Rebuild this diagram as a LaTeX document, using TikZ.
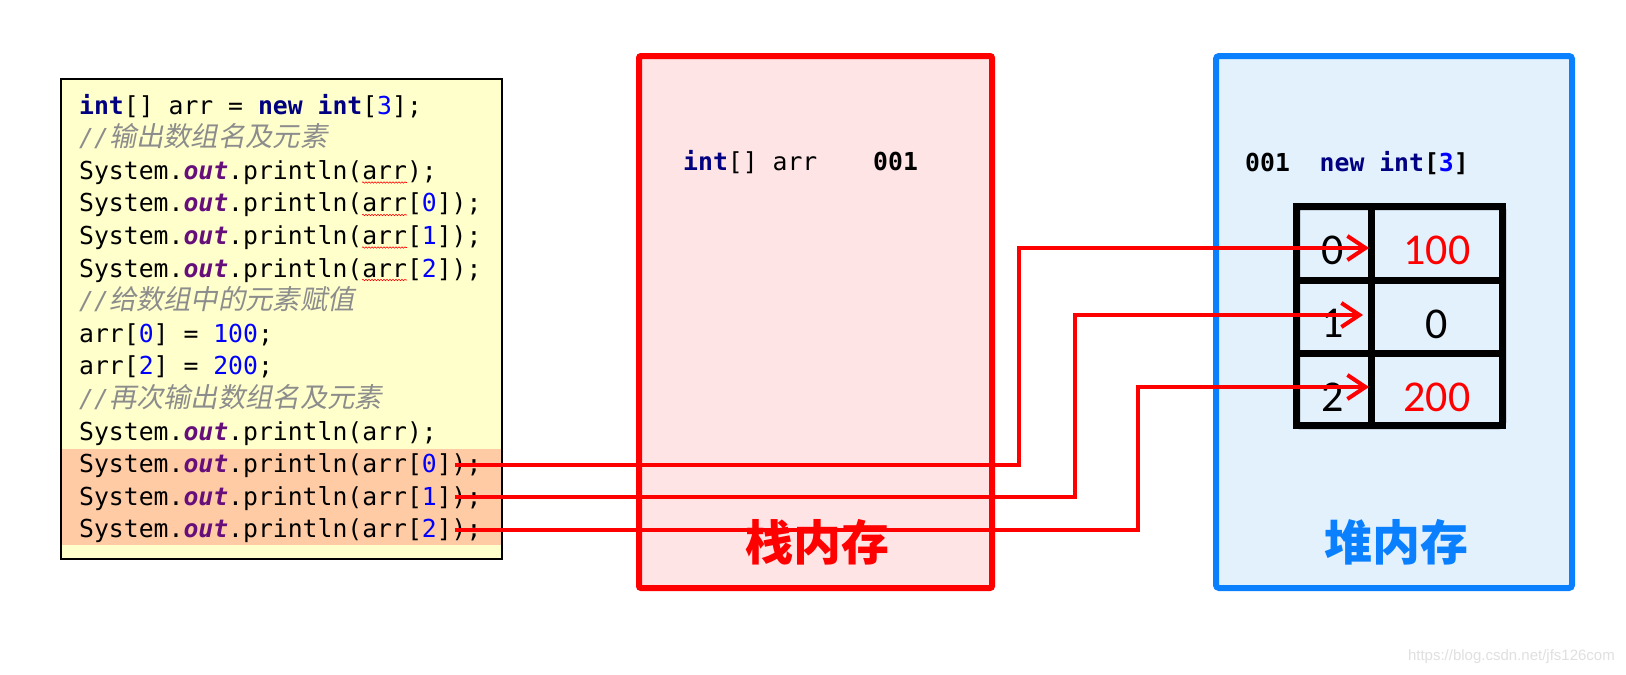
\documentclass[tikz,border=0pt]{standalone}
\usepackage{fontspec}
\setmonofont{DejaVu Sans Mono}
\newfontfamily\cjkfont{Noto Sans CJK SC}
\newfontfamily\cjkslant[FakeSlant=0.2]{Noto Sans CJK SC}
\newfontfamily\wmfont{Liberation Sans}
\newfontfamily\digitfont{Carlito}
\usetikzlibrary{arrows.meta,decorations.pathmorphing}
\definecolor{kwc}{HTML}{000080}
\definecolor{outc}{HTML}{660E7A}
\definecolor{numc}{HTML}{0000FF}
\definecolor{cmtc}{HTML}{8C8C8C}
\definecolor{codebg}{HTML}{FFFFCC}
\definecolor{hlbg}{HTML}{FFCBA4}
\definecolor{stackbg}{HTML}{FFE4E6}
\definecolor{heapbg}{HTML}{E3F1FD}
\definecolor{heapc}{HTML}{0A80FF}
\newcommand\KW[1]{{\bfseries\color{kwc}#1}}
\newcommand\OUTF[1]{{\bfseries\itshape\color{outc}#1}}
\newcommand\NUMB[1]{{\color{numc}#1}}
\newcommand\CMTL[1]{{\color{cmtc}{\itshape //}{\cjkslant\fontsize{27.3}{30}\selectfont #1}}}
\begin{document}
\begin{tikzpicture}[x=1pt,y=-1pt,
  code/.style={anchor=base west,inner sep=0pt,font=\ttfamily\fontsize{24.75}{30}\selectfont},
  conn/.style={draw=red,line width=4pt,-{Straight Barb[length=18pt,width=24pt]}},
  cell/.style={draw=black,line width=7pt,inner sep=0pt},
  digit/.style={inner sep=0pt,font=\digitfont\fontsize{44}{48}\selectfont},
  title/.style={anchor=base,inner sep=0pt,font=\cjkfont\bfseries\fontsize{48}{52}\selectfont},
  squig/.style={draw=red,line width=0.6pt,decorate,decoration={snake,amplitude=0.7pt,segment length=3pt}}]
\useasboundingbox (0,0) rectangle (1626,675);
\fill[white] (0,0) rectangle (1626,675);
% code box
\draw[fill=codebg,line width=2pt] (61,79) rectangle (502,559);
\fill[hlbg] (62,449) rectangle (501,545);
\node[code] (c1) at (79,114) {\KW{int}[] arr = \KW{new} \KW{int}[\NUMB{3}];};
\node[code] (c2) at (79,146.6) {\CMTL{输出数组名及元素}};
\node[code] (c3) at (79,179.2) {System.\OUTF{out}.println(arr);};
\node[code] (c4) at (79,211.8) {System.\OUTF{out}.println(arr[\NUMB{0}]);};
\node[code] (c5) at (79,244.4) {System.\OUTF{out}.println(arr[\NUMB{1}]);};
\node[code] (c6) at (79,277) {System.\OUTF{out}.println(arr[\NUMB{2}]);};
\node[code] (c7) at (79,309.6) {\CMTL{给数组中的元素赋值}};
\node[code] (c8) at (79,342.2) {arr[\NUMB{0}] = \NUMB{100};};
\node[code] (c9) at (79,374.8) {arr[\NUMB{2}] = \NUMB{200};};
\node[code] (c10) at (79,407.4) {\CMTL{再次输出数组名及元素}};
\node[code] (c11) at (79,440) {System.\OUTF{out}.println(arr);};
\node[code] (c12) at (79,472.6) {System.\OUTF{out}.println(arr[\NUMB{0}]);};
\node[code] (c13) at (79,505.2) {System.\OUTF{out}.println(arr[\NUMB{1}]);};
\node[code] (c14) at (79,537.8) {System.\OUTF{out}.println(arr[\NUMB{2}]);};
\foreach \yy in {182.5,215,247.5,280}{
  \draw[squig] (362,\yy) -- (407,\yy);
}
% stack
\draw[draw=red,fill=stackbg,line width=6pt,rounded corners=2pt] (639,56) rectangle (992,588);
\node[code] (sv) at (683,170) {\KW{int}[] arr};
\node[code] (sa) at (873,170) {\bfseries 001};
\node[title,text=red] (stt) at (817,560) {栈内存};
% heap
\draw[draw=heapc,fill=heapbg,line width=6pt,rounded corners=3pt] (1216,56) rectangle (1572,588);
\node[code] (ha) at (1245,171) {\bfseries 001\ \ \KW{new} \KW{int}[\NUMB{3}]};
\node[title,text=heapc] (htt) at (1396,560) {堆内存};
% array cells
\node[cell,minimum width=74.5pt,minimum height=73.5pt] (i0) at (1333.75,243.25) {};
\node[cell,minimum width=74.5pt,minimum height=73pt] (i1) at (1333.75,316.5) {};
\node[cell,minimum width=74.5pt,minimum height=72.5pt] (i2) at (1333.75,389.25) {};
\node[cell,minimum width=131.5pt,minimum height=73.5pt] (v0) at (1436.75,243.25) {};
\node[cell,minimum width=131.5pt,minimum height=73pt] (v1) at (1436.75,316.5) {};
\node[cell,minimum width=131.5pt,minimum height=72.5pt] (v2) at (1436.75,389.25) {};
\draw[line width=7pt,rounded corners=3pt] (1296.5,206.5) rectangle (1502.5,425.5);
\node[digit] (n0) at (1333,250) {0};
\node[digit] (n1) at (1333,323) {1};
\node[digit] (n2) at (1333,397) {2};
\node[digit,text=red] (w0) at (1437,250) {100};
\node[digit] (w1) at (1437,324) {0};
\node[digit,text=red] (w2) at (1437,397) {200};
% connectors
\coordinate (s0) at (455,465);
\coordinate (s1) at (455,497);
\coordinate (s2) at (455,530);
\coordinate (k0) at (1019,248);
\coordinate (k1) at (1075,315);
\coordinate (k2) at (1138,387);
\coordinate (t0) at (1369,248);
\coordinate (t1) at (1363,315);
\coordinate (t2) at (1369,387);
\draw[conn] (s0) -| (k0) -- (t0);
\draw[conn] (s1) -| (k1) -- (t1);
\draw[conn] (s2) -| (k2) -- (t2);
% watermark
\node[anchor=base east,inner sep=0pt,text=black!12,font=\wmfont\fontsize{15}{17}\selectfont] (wm) at (1615,660) {https://blog.csdn.net/jfs126com};
\end{tikzpicture}
\end{document}
